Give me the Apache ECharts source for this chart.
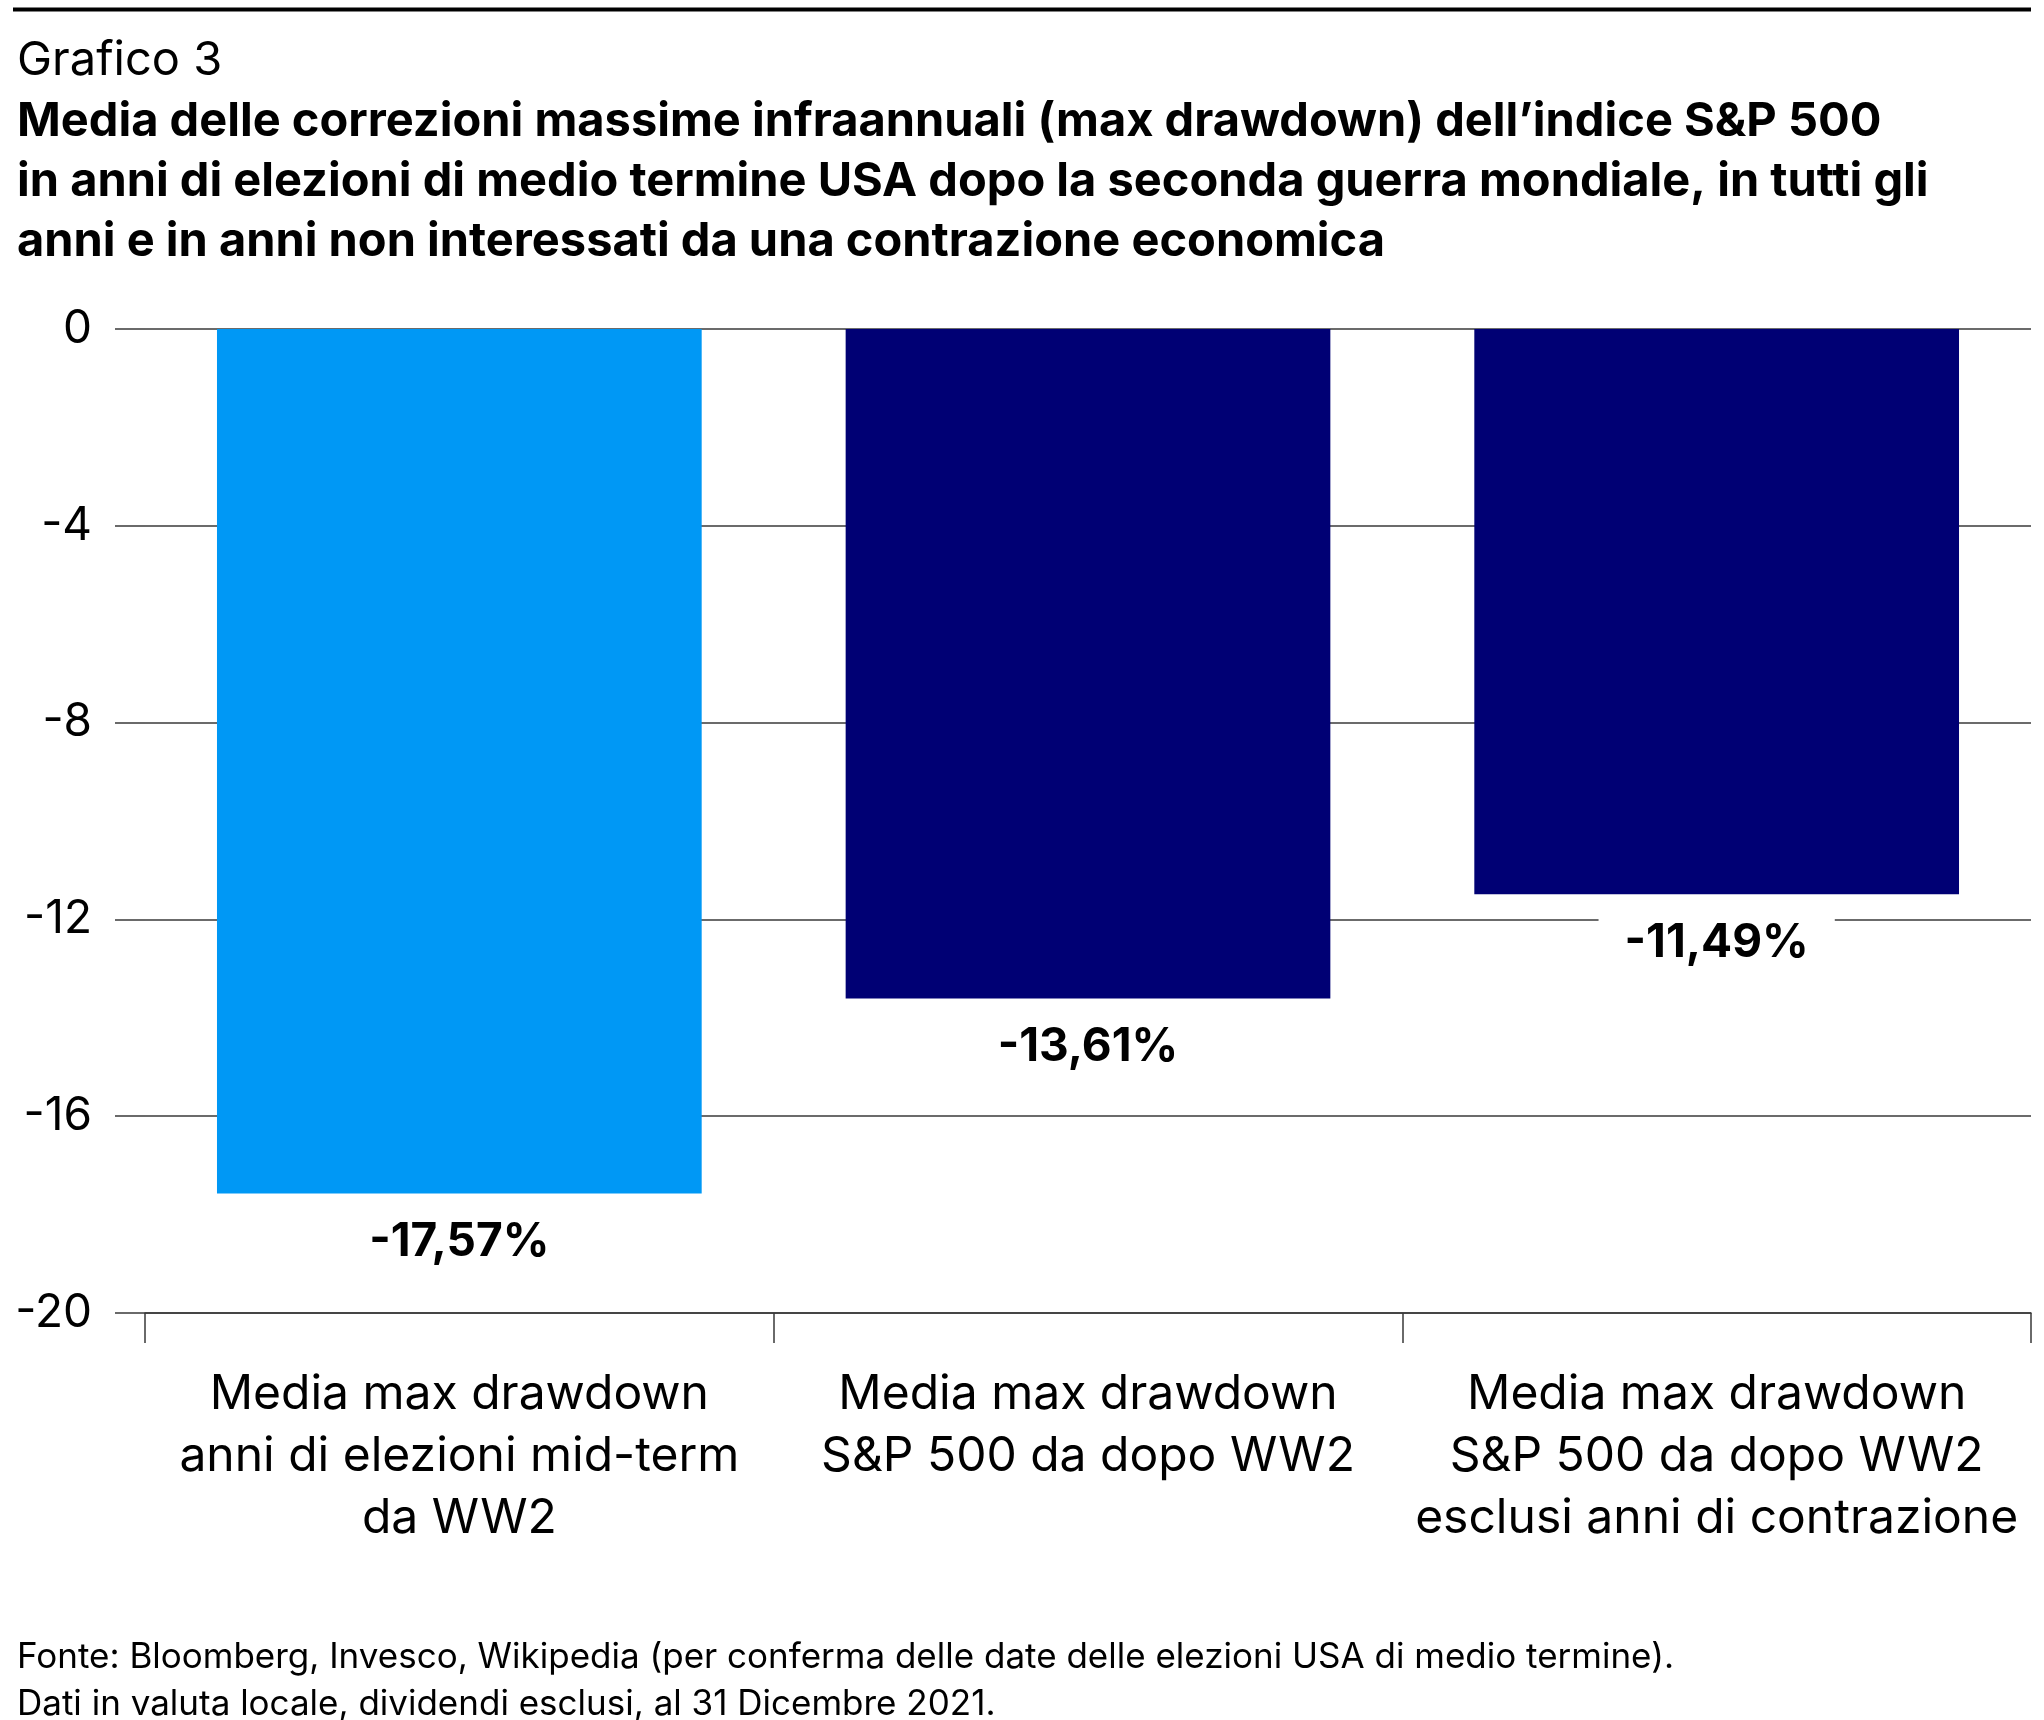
<!DOCTYPE html>
<html>
<head>
<meta charset="utf-8">
<script src="https://cdn.jsdelivr.net/npm/echarts@6/dist/echarts.min.js"></script>
<style>
  html, body { margin: 0; padding: 0; background: #fff; }
  #chart { width: 2044px; height: 1720px; }
</style>
</head>
<body>
<div id="chart"></div>
<script>
// ---- data ----
const categories = [
  'Media max drawdown\nanni di elezioni mid-term\nda WW2',
  'Media max drawdown\nS&P 500 da dopo WW2',
  'Media max drawdown\nS&P 500 da dopo WW2\nesclusi anni di contrazione'
];
const values = [-17.57, -13.61, -11.49];
const yMin = -20, yMax = 0, yStep = 4;

const chartLabel = 'Grafico 3';
const titleText = 'Media delle correzioni massime infraannuali (max drawdown) dell\u2019indice S&P 500\nin anni di elezioni di medio termine USA dopo la seconda guerra mondiale, in tutti gli\nanni e in anni non interessati da una contrazione economica';
const sourceText = 'Fonte: Bloomberg, Invesco, Wikipedia (per conferma delle date delle elezioni USA di medio termine).\nDati in valuta locale, dividendi esclusi, al 31 Dicembre 2021.';

// ---- styles ----
const palette = ['#0098f5', '#000074', '#000074'];
const FONT = 'Inter, "Liberation Sans", Arial, sans-serif';
const lineColor = '#3a3a3a';

const chart = echarts.init(document.getElementById('chart'), null, { renderer: 'canvas' });
chart.setOption({
  backgroundColor: '#fff',
  animation: false,
  title: [
    { text: chartLabel, left: 12, top: 31,
      textStyle: { fontFamily: FONT, fontSize: 47, fontWeight: 'normal', color: '#000', lineHeight: 50 } },
    { text: titleText, left: 12, top: 87,
      textStyle: { fontFamily: FONT, fontSize: 47, fontWeight: 'bold', color: '#000', lineHeight: 60 } },
    { text: sourceText, left: 12, top: 1629,
      textStyle: { fontFamily: FONT, fontSize: 35, fontWeight: 'normal', color: '#000', lineHeight: 47 } }
  ],
  graphic: [
    { type: 'line', shape: { x1: 13, y1: 9.5, x2: 2031, y2: 9.5 }, style: { stroke: '#000', lineWidth: 4 } }
  ],
  grid: { left: 145, top: 329, width: 1886, height: 984, containLabel: false },
  xAxis: {
    type: 'category',
    data: categories,
    axisLine: { show: true, onZero: false, lineStyle: { color: lineColor, width: 1.5 } },
    axisTick: { show: true, length: 30, alignWithLabel: false, interval: 0, lineStyle: { color: lineColor, width: 1.5 } },
    axisLabel: { interval: 0, margin: 51, fontFamily: FONT, fontSize: 48, lineHeight: 62, color: '#000', align: 'center' },
    splitLine: { show: false }
  },
  yAxis: {
    type: 'value',
    min: yMin, max: yMax, interval: yStep,
    axisLine: { show: false },
    axisTick: { show: true, length: 30, lineStyle: { color: lineColor, width: 1.5 } },
    axisLabel: { margin: 53, fontFamily: FONT, fontSize: 46, color: '#000' },
    splitLine: { show: true, lineStyle: { color: lineColor, width: 1.5 } }
  },
  series: [{
    type: 'bar',
    data: values,
    barCategoryGap: '22.9%',
    itemStyle: { color: (p) => palette[p.dataIndex] },
    label: {
      show: true,
      position: 'bottom',
      distance: 19,
      formatter: (p) => p.value.toFixed(2).replace('.', ',') + '%',
      fontFamily: FONT, fontSize: 46, fontWeight: 'bold', color: '#000', lineHeight: 48,
      backgroundColor: '#fff', padding: [6, 26]
    }
  }]
});
</script>
</body>
</html>
